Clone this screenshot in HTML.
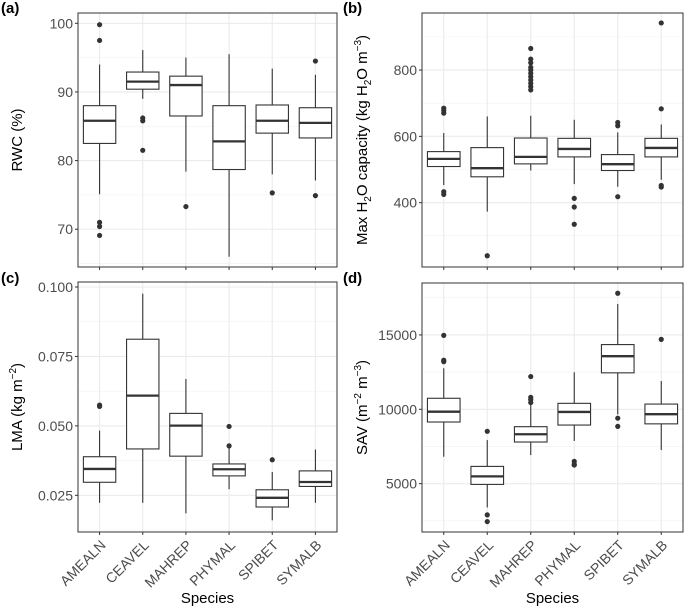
<!DOCTYPE html>
<html><head><meta charset="utf-8"><style>
html,body{margin:0;padding:0;background:#fff;}
svg{display:block;font-family:"Liberation Sans",Arial,sans-serif;}
</style></head><body>
<svg id="fig" width="685" height="609" viewBox="0 0 685 609" xmlns="http://www.w3.org/2000/svg"></svg>
<script>
const species = ["AMEALN","CEAVEL","MAHREP","PHYMAL","SPIBET","SYMALB"];
// [lowerWhisker, q1, median, q3, upperWhisker]
const rwcStats = [[75.1,82.5,85.8,88.0,94.0],[89.0,90.4,91.5,92.9,96.1],[78.4,86.5,91.0,92.3,95.0],[66.0,78.7,82.8,88.0,95.5],[78.0,84.0,85.8,88.1,93.4],[77.1,83.3,85.5,87.7,92.5]];
const rwcOut = [[99.8,97.5,71.0,70.4,69.1],[86.2,85.8,81.5],[73.3],[],[75.3],[94.5,74.9]];
const h2oStats = [[453,509,532,554,610],[373,478,504,566,660],[497,517,538,595,662],[456,538,562,594,650],[448,497,516,545,612],[469,538,565,594,636]];
const h2oOut = [[685,678,670,433,425],[240],[865,833,822,808,800,790,780,770,760,750,740],[413,387,335],[642,632,418],[942,683,452,447]];
const lmaStats = [[0.0223,0.0297,0.0345,0.0389,0.0483],[0.0223,0.0417,0.0609,0.0812,0.0976],[0.0185,0.0391,0.0501,0.0545,0.0669],[0.0272,0.0320,0.0344,0.0363,0.0422],[0.0160,0.0208,0.0241,0.0270,0.0334],[0.0223,0.0282,0.0298,0.0338,0.0415]];
const lmaOut = [[0.0575,0.0570],[],[],[0.0498,0.0428],[0.0378],[]];
const savStats = [[6810,9144,9840,10740,12760],[3400,4950,5490,6160,7930],[6920,7800,8320,8830,10510],[7870,8940,9820,10400,12490],[9660,12450,13570,14350,17080],[7260,9020,9670,10350,11900]];
const savOut = [[14970,13300,13200],[8520,2900,2450],[12200,10800,10650,10450],[6500,6300,6250],[17800,9400,8850],[14700]];
const rwcTicks = [70,80,90,100];
const h2oTicks = [400,600,800];
const lmaTicks = [0.025,0.050,0.075,0.100];
const lmaTickLabels = ["0.025","0.050","0.075","0.100"];
const savTicks = [5000,10000,15000];

const NS="http://www.w3.org/2000/svg";
const svg=document.getElementById('fig');
function el(tag,attrs,parent){const e=document.createElementNS(NS,tag);for(const k in attrs)e.setAttribute(k,attrs[k]);(parent||svg).appendChild(e);return e;}

function panel(cfg){
  const g=el('g',{});
  
  
  const {L,T,R,B,ymin,ymax}=cfg;
  const y=v=>B-(v-ymin)/(ymax-ymin)*(B-T);
  const n=species.length, step=(R-L)/n;
  const x=i=>L+step*(i+0.5);
  for(let k=0;k<cfg.ticks.length+1;k++){
    const d=cfg.ticks[1]-cfg.ticks[0];
    const v=cfg.ticks[0]-d/2+k*d;
    if(v>ymin&&v<ymax){const ln=el('line',{x1:L,x2:R,y1:y(v),y2:y(v),stroke:'#f2f2f2','stroke-width':0.6},g);
      }
  }
  cfg.ticks.forEach((v,i)=>{
    const ln=el('line',{x1:L,x2:R,y1:y(v),y2:y(v),stroke:'#ebebeb','stroke-width':1.1},g);
    
    el('line',{x1:L-3,x2:L,y1:y(v),y2:y(v),stroke:'#333','stroke-width':1},g);
    const t=el('text',{x:L-5,y:y(v)+5,'text-anchor':'end','font-size':14,fill:'#4d4d4d'},g);
    t.textContent=cfg.labels?cfg.labels[i]:String(v);
    
  });
  species.forEach((s,i)=>{
    const ln=el('line',{x1:x(i),x2:x(i),y1:T,y2:B,stroke:'#ebebeb','stroke-width':1.1},g);
    
    el('line',{x1:x(i),x2:x(i),y1:B,y2:B+3,stroke:'#333','stroke-width':1},g);
    if(cfg.xlabels){
      const t=el('text',{x:x(i)+7,y:B+14,'text-anchor':'end','font-size':14,fill:'#4d4d4d',transform:`rotate(-45 ${x(i)+7} ${B+14})`},g);
      t.textContent=s;
      
    }
  });
  const bw=step*0.75;
  cfg.stats.forEach((st,i)=>{
    const bg=el('g',{},g);
    
    
    el('line',{x1:x(i),x2:x(i),y1:y(st[0]),y2:y(st[1]),stroke:'#333','stroke-width':1.1},bg);
    el('line',{x1:x(i),x2:x(i),y1:y(st[3]),y2:y(st[4]),stroke:'#333','stroke-width':1.1},bg);
    el('rect',{x:x(i)-bw/2,y:y(st[3]),width:bw,height:y(st[1])-y(st[3]),fill:'#fff',stroke:'#333','stroke-width':1.1},bg);
    el('line',{x1:x(i)-bw/2,x2:x(i)+bw/2,y1:y(st[2]),y2:y(st[2]),stroke:'#333','stroke-width':2.3},bg);
    cfg.out[i].forEach(v=>{
      const c=el('circle',{cx:x(i),cy:y(v),r:2.6,fill:'#333'},bg);
      
    });
  });
  const fr=el('rect',{x:L,y:T,width:R-L,height:B-T,fill:'none',stroke:'#333','stroke-width':1},g);
  
  const pl=el('text',{x:cfg.px,y:cfg.py,'font-size':15,'font-weight':'bold',fill:'#000'},g);
  pl.textContent=cfg.tag;
  const cy=(T+B)/2;
  const yt=el('text',{x:cfg.tx,y:cy,'text-anchor':'middle','font-size':15,fill:'#000',transform:`rotate(-90 ${cfg.tx} ${cy})`},g);
  yt.innerHTML=cfg.title;
  if(cfg.xlabels){
    const xt=el('text',{x:(L+R)/2,y:603,'text-anchor':'middle','font-size':15,fill:'#000'},g);
    xt.textContent='Species';
  }
}
panel({name:'panel-a-rwc',tag:'(a)',px:1,py:13,L:78,T:13,R:337,B:267,ymin:64.5,ymax:101.5,ticks:rwcTicks,stats:rwcStats,out:rwcOut,tx:22,title:'RWC (%)'});
panel({name:'panel-b-h2o',tag:'(b)',px:343,py:13,L:422,T:13,R:683,B:267,ymin:206,ymax:972,ticks:h2oTicks,stats:h2oStats,out:h2oOut,tx:367,title:'Max H<tspan font-size="10" dy="4">2</tspan><tspan dy="-4">O capacity (kg H</tspan><tspan font-size="10" dy="4">2</tspan><tspan dy="-4">O m</tspan><tspan font-size="10" dy="-6">−3</tspan><tspan dy="6">)</tspan>'});
panel({name:'panel-c-lma',tag:'(c)',px:1,py:283,L:78,T:282,R:337,B:532,ymin:0.0118,ymax:0.1018,ticks:lmaTicks,labels:lmaTickLabels,stats:lmaStats,out:lmaOut,tx:22,xlabels:true,title:'LMA (kg m<tspan font-size="10" dy="-6">−2</tspan><tspan dy="6">)</tspan>'});
panel({name:'panel-d-sav',tag:'(d)',px:343,py:283,L:422,T:283,R:683,B:532,ymin:1750,ymax:18490,ticks:savTicks,stats:savStats,out:savOut,tx:367,xlabels:true,title:'SAV (m<tspan font-size="10" dy="-6">−2</tspan><tspan dy="6"> m</tspan><tspan font-size="10" dy="-6">−3</tspan><tspan dy="6">)</tspan>'});
</script>
</body></html>
